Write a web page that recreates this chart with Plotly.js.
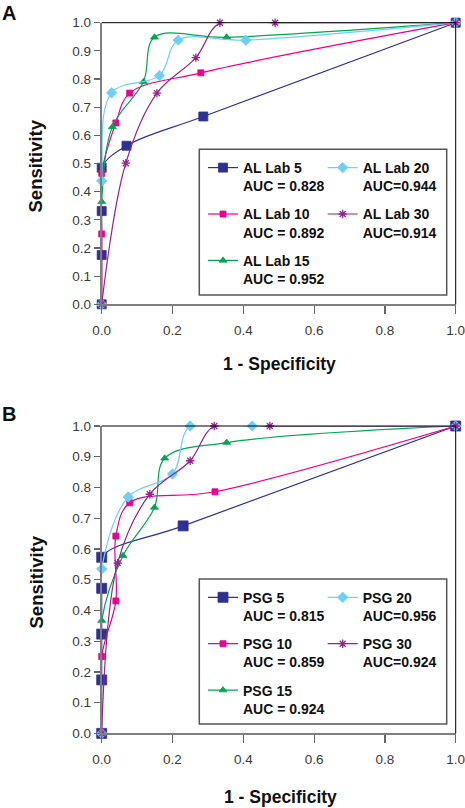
<!DOCTYPE html>
<html><head><meta charset="utf-8">
<script src="https://cdn.plot.ly/plotly-3.0.1.min.js"></script>
<style>html,body{margin:0;padding:0;background:#fff;}#chart{width:465px;height:808px;}</style>
</head><body><div id="chart"></div>
<script>
// ---- Panel A (AL Lab) ----
const alNames = ['AL Lab 5<br>AUC = 0.828','AL Lab 10<br>AUC = 0.892','AL Lab 15<br>AUC = 0.952','AL Lab 20<br>AUC=0.944','AL Lab 30<br>AUC=0.914'];
const al5X  = [0,0,0,0,0.07,0.287,1];
const al5Y  = [0,0.175,0.331,0.485,0.563,0.667,1];
const al10X = [0,0,0,0.04,0.079,0.28,1];
const al10Y = [0,0.25,0.465,0.644,0.75,0.822,1];
const al15X = [0,0,0.03,0.118,0.149,0.353,1];
const al15Y = [0,0.364,0.63,0.79,0.948,0.948,1];
const al20X = [0,0,0.028,0.163,0.216,0.407,1];
const al20Y = [0,0.438,0.751,0.812,0.938,0.938,1];
const al30X = [0,0.068,0.156,0.266,0.334,0.49,1];
const al30Y = [0,0.501,0.75,0.876,1,1,1];
// ---- Panel B (PSG) ----
const psgNames = ['PSG 5<br>AUC = 0.815','PSG 10<br>AUC = 0.859','PSG 15<br>AUC = 0.924','PSG 20<br>AUC=0.956','PSG 30<br>AUC=0.924'];
const psg5X  = [0,0,0,0,0,0.23,1];
const psg5Y  = [0,0.174,0.323,0.472,0.573,0.675,1];
const psg10X = [0,0,0.04,0.04,0.079,0.32,1];
const psg10Y = [0,0.25,0.431,0.642,0.75,0.786,1];
const psg15X = [0,0,0.06,0.149,0.178,0.353,1];
const psg15Y = [0,0.367,0.578,0.735,0.895,0.946,1];
const psg20X = [0,0,0.075,0.2,0.25,0.425,1];
const psg20Y = [0,0.535,0.769,0.844,1,1,1];
const psg30X = [0,0.045,0.136,0.25,0.318,0.475,1];
const psg30Y = [0,0.554,0.778,0.887,1,1,1];
const xTicks = [0,0.2,0.4,0.6,0.8,1.0];
const yTicks = [0,0.1,0.2,0.3,0.4,0.5,0.6,0.7,0.8,0.9,1.0];

const W = 465, H = 808;
const px = v => v / W, py = v => 1 - v / H;
const colors = ['#2E3192','#EC008C','#00A651','#6DCFF6','#92278F'];
const symbols = ['square','square','triangle-up','diamond','asterisk-open'];

function mk(name, x, y, i, xa, ya, leg, grp, big) {
  const sizes = [big ? 10 : 9, 6, 7, 8, 7];
  return {
    type: 'scatter', mode: 'lines+markers', x: x, y: y, name: name,
    xaxis: xa, yaxis: ya, legend: leg, legendgroup: grp, cliponaxis: false,
    line: {color: colors[i], width: 1.2, shape: 'spline', smoothing: 1},
    marker: {color: colors[i], symbol: symbols[i], size: sizes[i], line: {color: colors[i], width: i === 4 ? 1.3 : 0.8}}
  };
}
const data = [
  mk(alNames[0], al5X, al5Y, 0, 'x', 'y', 'legend', 'a0'),
  mk(alNames[1], al10X, al10Y, 1, 'x', 'y', 'legend', 'a1'),
  mk(alNames[2], al15X, al15Y, 2, 'x', 'y', 'legend', 'a2'),
  mk(alNames[3], al20X, al20Y, 3, 'x', 'y', 'legend2', 'a3'),
  mk(alNames[4], al30X, al30Y, 4, 'x', 'y', 'legend2', 'a4'),
  mk(psgNames[0], psg5X, psg5Y, 0, 'x2', 'y2', 'legend3', 'b0', true),
  mk(psgNames[1], psg10X, psg10Y, 1, 'x2', 'y2', 'legend3', 'b1'),
  mk(psgNames[2], psg15X, psg15Y, 2, 'x2', 'y2', 'legend3', 'b2'),
  mk(psgNames[3], psg20X, psg20Y, 3, 'x2', 'y2', 'legend4', 'b3'),
  mk(psgNames[4], psg30X, psg30Y, 4, 'x2', 'y2', 'legend4', 'b4')
];

const tickFont = {family: 'Liberation Sans, Arial, sans-serif', size: 13.5, color: '#3a3a3a'};
function xax(anchor, dom) {
  return {domain: dom, anchor: anchor, range: [0, 1], tickvals: xTicks, tickformat: '.1f',
    ticks: 'outside', ticklen: 8, tickcolor: '#666', tickwidth: 1.2, ticklabelstandoff: 4,
    ticklabeloverflow: 'allow',
    showline: true, linecolor: '#7f7f7f', linewidth: 2, showgrid: false, zeroline: false,
    tickfont: tickFont, automargin: false, fixedrange: true};
}
function yax(anchor, dom) {
  return {domain: dom, anchor: anchor, range: [0, 1], tickvals: yTicks, tickformat: '.1f',
    ticks: 'outside', ticklen: 6, tickcolor: '#666', tickwidth: 1.2, ticklabeloverflow: 'allow',
    showline: true, linecolor: '#7f7f7f', linewidth: 2, showgrid: false, zeroline: false,
    tickfont: tickFont, automargin: false, fixedrange: true};
}
const xDom = [px(101.7), px(455.7)];
const legFont = {family: 'Liberation Sans, Arial, sans-serif', size: 14, color: '#111', weight: 700};
function leg(xp, yp) {
  return {x: px(xp), y: py(yp), xanchor: 'left', yanchor: 'top', orientation: 'v',
    bgcolor: 'rgba(0,0,0,0)', borderwidth: 0, font: legFont, valign: 'top',
    tracegroupgap: 7, itemwidth: 30, itemclick: false, itemdoubleclick: false};
}
const titleFontX = {family: 'Liberation Sans, Arial, sans-serif', size: 17.5, color: '#111', weight: 700};
const titleFontY = {family: 'Liberation Sans, Arial, sans-serif', size: 18.5, color: '#111', weight: 700};
const letterFont = {family: 'Liberation Sans, Arial, sans-serif', size: 20, color: '#111', weight: 700};
function border(xa, ya) {
  return [
    {type: 'line', xref: xa + ' domain', yref: ya + ' domain', x0: 0, x1: 1, y0: 1, y1: 1, line: {color: '#000', width: 1}},
    {type: 'line', xref: xa + ' domain', yref: ya + ' domain', x0: 1, x1: 1, y0: 0, y1: 1, line: {color: '#000', width: 1}}
  ];
}
const layout = {
  width: W, height: H, margin: {l: 0, r: 0, t: 0, b: 0, pad: 0},
  paper_bgcolor: '#fff', plot_bgcolor: '#fff', showlegend: true,
  xaxis: xax('y', xDom), yaxis: yax('x', [py(304.3), py(22.7)]),
  xaxis2: xax('y2', xDom), yaxis2: yax('x2', [py(733.4), py(426)]),
  legend: leg(203, 152), legend2: leg(322.7, 152),
  legend3: leg(203, 581.7), legend4: leg(322.7, 581.7),
  shapes: [
    {type: 'rect', xref: 'paper', yref: 'paper', x0: px(199.3), x1: px(446.7), y0: py(295), y1: py(149.3), line: {color: '#555', width: 1.5}, fillcolor: '#fff', layer: 'below'},
    {type: 'rect', xref: 'paper', yref: 'paper', x0: px(199.3), x1: px(446.7), y0: py(724), y1: py(579), line: {color: '#555', width: 1.5}, fillcolor: '#fff', layer: 'below'}
  ].concat(border('x', 'y'), border('x2', 'y2')),
  annotations: [
    {text: 'A', xref: 'paper', yref: 'paper', x: px(8.5), y: py(13), xanchor: 'center', yanchor: 'middle', showarrow: false, font: letterFont},
    {text: 'B', xref: 'paper', yref: 'paper', x: px(8.5), y: py(414), xanchor: 'center', yanchor: 'middle', showarrow: false, font: letterFont},
    {text: '1 - Specificity', xref: 'paper', yref: 'paper', x: px(279.5), y: py(364), xanchor: 'center', yanchor: 'middle', showarrow: false, font: titleFontX},
    {text: '1 - Specificity', xref: 'paper', yref: 'paper', x: px(280), y: py(797), xanchor: 'center', yanchor: 'middle', showarrow: false, font: titleFontX},
    {text: 'Sensitivity', xref: 'paper', yref: 'paper', x: px(35.5), y: py(166), textangle: -90, xanchor: 'center', yanchor: 'middle', showarrow: false, font: titleFontY},
    {text: 'Sensitivity', xref: 'paper', yref: 'paper', x: px(35.5), y: py(582), textangle: -90, xanchor: 'center', yanchor: 'middle', showarrow: false, font: titleFontY}
  ]
};
Plotly.newPlot('chart', data, layout, {displayModeBar: false, staticPlot: true});
</script></body></html>
